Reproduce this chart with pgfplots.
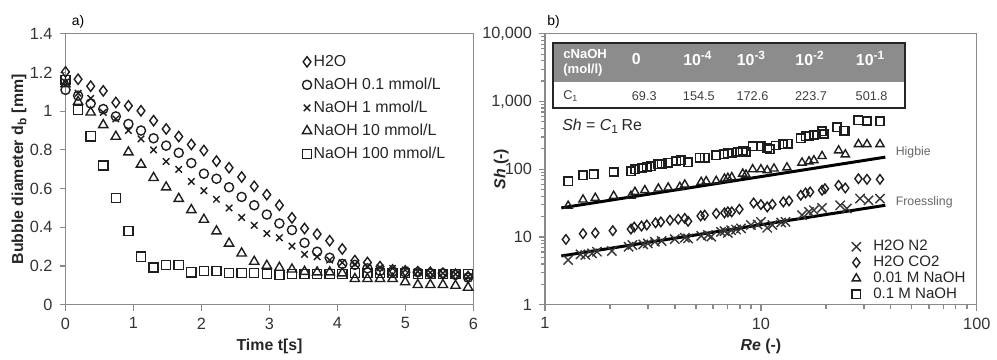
\documentclass[border=0pt]{standalone}
\usepackage{pgfplots}
\pgfplotsset{compat=1.18}
\usepackage{pgfplotstable}
\usepackage{fontspec}
\setmainfont{Liberation Sans}
\definecolor{axgray}{HTML}{8A8A8A}
\definecolor{mk}{HTML}{1E1E1E}
\definecolor{hdr}{HTML}{8C8C8C}

\pgfplotstableread{
t h2o n01 n1 n10 n100
0 1.203 1.11 1.15 1.14 1.16
0.185 1.165 1.08 1.093 1.049 1.006
0.37 1.129 1.04 1.066 0.994 0.870
0.555 1.105 1.011 0.994 0.929 0.72
0.74 1.045 0.973 0.96 0.869 0.552
0.925 1.028 0.934 0.90 0.788 0.382
1.11 1.002 0.90 0.857 0.725 0.248
1.295 0.951 0.86 0.80 0.656 0.192
1.48 0.908 0.822 0.74 0.607 0.206
1.665 0.869 0.785 0.699 0.548 0.206
1.85 0.828 0.732 0.637 0.49 0.168
2.035 0.797 0.677 0.589 0.44 0.175
2.22 0.742 0.651 0.545 0.38 0.175
2.405 0.708 0.607 0.50 0.317 0.163
2.59 0.660 0.557 0.451 0.266 0.163
2.775 0.612 0.514 0.41 0.223 0.163
2.96 0.569 0.466 0.368 0.202 0.158
3.145 0.514 0.420 0.346 0.192 0.154
3.33 0.449 0.386 0.303 0.183 0.158
3.515 0.394 0.320 0.26 0.171 0.158
3.70 0.365 0.274 0.248 0.168 0.158
3.885 0.331 0.243 0.231 0.168 0.158
4.07 0.288 0.211 0.218 0.163 0.158
4.255 0.228 0.206 0.209 0.134 0.163
4.44 0.218 0.188 0.197 0.134 0.163
4.625 0.197 0.175 0.192 0.134 0.163
4.81 0.180 0.171 0.188 0.134 0.163
4.995 0.175 0.168 0.18 0.117 0.163
5.18 0.171 0.168 0.171 0.103 0.16
5.365 0.168 0.163 0.166 0.103 0.16
5.55 0.163 0.163 0.163 0.103 0.16
5.735 0.158 0.154 0.158 0.099 0.158
5.92 0.146 0.14 0.146 0.089 0.158
}\lefttab

\pgfplotstableread{
re sh
1.28 4.58
1.46 5.55
1.54 5.43
1.65 5.74
1.74 6.07
2.04 6.21
2.44 7.19
2.54 7.61
2.85 7.78
2.99 8.05
3.23 8.51
3.47 8.71
3.99 9.32
4.44 9.75
4.60 9.53
5.29 10.4
5.68 10.7
5.89 10.1
6.54 11.9
6.78 12.2
7.03 11.5
7.28 12.6
7.67 12.9
8.09 13.4
8.99 15.0
9.66 15.3
10.0 16.7
10.7 13.7
11.3 15.0
12.4 16.4
13.0 16.7
15.5 21.0
16.7 23.5
17.6 24.9
19.2 26.9
23.3 29.4
25.0 26.3
28.8 36.9
31.5 34.8
35.6 36.9
}\tabNtwo

\pgfplotstableread{
re sh
1.25 9.21
1.50 11.2
1.71 11.5
2.06 12.4
2.50 13.1
2.59 14.0
2.80 14.5
2.96 15.0
3.25 16.2
3.44 16.7
3.79 17.7
4.14 18.3
4.44 18.8
4.60 17.1
5.26 20.5
5.49 21.0
6.21 22.2
6.78 22.7
7.03 23.5
7.33 23.5
7.95 25.7
9.25 31.8
10.0 30.1
10.7 27.8
11.3 30.4
12.7 32.9
13.5 34.1
15.3 41.3
16.1 44.7
16.9 46.2
19.2 48.9
19.8 51.7
22.9 57.9
24.6 52.9
28.3 72.5
31.0 71
35.6 71
}\tabCOtwo

\pgfplotstableread{
re sh
1.28 28.8
1.50 35.6
1.71 37.7
2.08 40.4
2.50 40.4
2.61 46.2
2.90 48.9
3.35 51.7
3.72 53.5
4.21 54.7
4.44 59.2
5.29 64.8
5.58 66.3
6.21 67.0
6.78 72.5
7.03 74.2
7.33 75.9
8.24 85.9
8.53 83
9.16 99.5
10.0 99.5
10.7 96.1
11.5 102
13.2 106
15.5 125
16.7 130
17.6 135
19.2 156
22.9 189
24.6 165
28.3 234
31.0 234
35.6 234
}\tabNaOHa

\pgfplotstableread{
re sh
1.28 66.3
1.50 81.2
1.68 84
2.08 90.9
2.50 93
2.61 99.5
2.80 104
2.96 108
3.10 110
3.32 118
3.47 120
3.72 125
4.06 132
4.28 136
4.60 127
5.20 148
5.49 148
6.21 160
6.73 167
7.03 171
7.33 175
7.81 179
8.24 187
8.53 179
9.16 219
10.0 219
10.7 205
11.0 196
11.7 224
12.6 234
13.3 237
15.3 287
16.1 307
16.7 314
17.6 321
19.2 364
19.6 332
22.5 416
24.2 372
24.6 372
28.3 527
31.0 516
35.6 510
}\tabNaOHb

\pgfplotsset{
  common/.style={
    scale only axis,
    axis line style={axgray, line width=0.6pt},
    tick style={axgray, line width=0.6pt},
    tick align=outside,
    major tick length=3pt,
    minor tick length=2pt,
    xtick pos=bottom, ytick pos=left,
    /pgf/number format/assume math mode=true,
    tick label style={font=\fontsize{8.2}{9}\selectfont, text=black!80},
    label style={font=\bfseries\fontsize{8}{9}\selectfont, text=black!85},
    clip=false,
  }
}

\begin{document}
\begin{tikzpicture}
\begin{scope}[x=0.5pt,y=-0.5pt]
\useasboundingbox (0,0) rectangle (997,356);
\end{scope}

% ---------------- panel a ----------------
\begin{axis}[common,
  at={(33pt,-153.5pt)}, anchor=south west,
  width=205.5pt, height=136.5pt,
  xmin=0, xmax=6, ymin=0, ymax=1.4,
  xtick={0,1,2,3,4,5,6},
  ytick={0,0.2,0.4,0.6,0.8,1,1.2,1.4},
  yticklabel style={/pgf/number format/fixed, /pgf/number format/precision=1},
  xlabel={Time t[s]},
  ylabel={Bubble diameter d\textsubscript{b} [mm]},
  xlabel style={at={(axis description cs:0.5,-0.152)}, anchor=center},
  ylabel style={at={(axis description cs:-0.114,0.5)}, anchor=center},
  legend style={at={(0.565,0.94)}, anchor=north west, draw=none, fill=none,
    font=\fontsize{8}{9}\selectfont, text=black!85,
    nodes={inner xsep=1pt, inner ysep=0pt, text height=6pt, text depth=1.5pt},
    row sep=4.1pt},
  legend cell align=left,
]
\addplot[only marks, mark=diamond, mark size=2.6pt, mark options={draw=mk, line width=0.7pt, fill=none}] table[x=t,y=h2o] {\lefttab};
\addlegendentry{H2O}
\addplot[only marks, mark=o, mark size=2.3pt, mark options={draw=mk, line width=0.7pt}] table[x=t,y=n01] {\lefttab};
\addlegendentry{NaOH 0.1 mmol/L}
\addplot[only marks, mark=x, mark size=2.3pt, mark options={draw=mk, line width=0.7pt}] table[x=t,y=n1] {\lefttab};
\addlegendentry{NaOH 1 mmol/L}
\addplot[only marks, mark=triangle, mark size=2.7pt, mark options={draw=mk, line width=0.7pt}] table[x=t,y=n10] {\lefttab};
\addlegendentry{NaOH 10 mmol/L}
\addplot[only marks, mark=square, mark size=2.3pt, mark options={draw=mk, line width=0.7pt}] table[x=t,y=n100] {\lefttab};
\addlegendentry{NaOH 100 mmol/L}
\end{axis}

% ---------------- panel b ----------------
\begin{axis}[common,
  at={(274.5pt,-153.5pt)}, anchor=south west,
  width=217.5pt, height=136.5pt,
  xmode=log, ymode=log,
  xmin=1, xmax=100, ymin=1, ymax=10000,
  xtick={1,10,100}, xticklabels={1,10,100},
  ytick={1,10,100,1000,10000}, yticklabels={1,10,100,{1,000},{10,000}},
  xlabel={\textit{Re} (-)},
  ylabel={\textit{Sh} (-)},
  xlabel style={at={(axis description cs:0.5,-0.152)}, anchor=center},
  ylabel style={at={(axis description cs:-0.101,0.5)}, anchor=center},
  every axis plot post/.append style={
    legend image code/.code={\path[draw=none,fill=none] (0cm,0cm) (0.6cm,0cm);\draw[mark repeat=2,mark phase=2,##1] plot coordinates {(0cm,0cm)(0.3cm,0cm)(0.6cm,0cm)};}},
  legend style={at={(0.667,0.256)}, anchor=north west, draw=none, fill=none,
    font=\fontsize{7.6}{9}\selectfont, text=black!85,
    nodes={inner xsep=0pt, inner ysep=0pt, text height=5.6pt, text depth=1.4pt},
    row sep=1.0pt},
  legend cell align=left,
]
\addplot[only marks, mark=x, mark size=3.3pt, mark options={draw=mk!90, line width=0.7pt}] table[x=re,y=sh] {\tabNtwo};
\addlegendentry{H2O N2}
\addplot[only marks, mark=diamond, mark size=2.4pt, mark options={draw=mk, line width=0.7pt}] table[x=re,y=sh] {\tabCOtwo};
\addlegendentry{H2O CO2}
\addplot[only marks, mark=triangle, mark size=2.4pt, mark options={draw=mk, line width=0.7pt}] table[x=re,y=sh] {\tabNaOHa};
\addlegendentry{0.01 M NaOH}
\addplot[only marks, mark=square, mark size=2.1pt, mark options={draw=mk, line width=0.8pt}] table[x=re,y=sh] {\tabNaOHb};
\addlegendentry{0.1 M NaOH}
\addplot[forget plot, black, line width=1.5pt] coordinates {(1.19,26.9) (37.7,151)};
\addplot[forget plot, black, line width=1.5pt] coordinates {(1.19,5.25) (37.7,29.4)};
\end{axis}

% ---------------- annotations ----------------
\begin{scope}[x=0.5pt,y=-0.5pt]
\node[anchor=west, inner sep=0pt, font=\fontsize{7}{8}\selectfont] at (72,22) {a)};
\node[anchor=west, inner sep=0pt, font=\fontsize{7}{8}\selectfont] at (551,22) {b)};
% table
\fill[hdr] (557,43) rectangle (912,83);
\fill[white] (557,83) rectangle (912,109);
\draw[line width=0.9pt, black!85] (557,43) rectangle (912,109);
\node[anchor=west, inner sep=0pt, align=left, text=white, font=\bfseries\fontsize{6.6}{7.4}\selectfont] at (567,63) {cNaOH\\(mol/l)};
\begin{scope}[every node/.style={inner sep=0pt, text=white, font=\bfseries\fontsize{8}{9}\selectfont}]
\node at (641,59) {0};
\node at (703,59) {10\textsuperscript{-4}};
\node at (757,59) {10\textsuperscript{-3}};
\node at (816,59) {10\textsuperscript{-2}};
\node at (877,59) {10\textsuperscript{-1}};
\end{scope}
\begin{scope}[every node/.style={inner sep=0pt, text=black!75, font=\fontsize{6.4}{7}\selectfont}]
\node[anchor=west] at (567,97) {C\textsubscript{1}};
\node at (649,97) {69.3};
\node at (704,97) {154.5};
\node at (758,97) {172.6};
\node at (817,97) {223.7};
\node at (878,97) {501.8};
\end{scope}
\node[anchor=west, inner sep=0pt, text=black!85, font=\fontsize{8}{9}\selectfont] at (566,127) {\textit{Sh} = \textit{C}\textsubscript{1}\,Re};
\node[anchor=west, inner sep=0pt, text=black!60, font=\fontsize{6.2}{7}\selectfont] at (902,153) {Higbie};
\node[anchor=west, inner sep=0pt, text=black!60, font=\fontsize{6.2}{7}\selectfont] at (902,204) {Froessling};
\end{scope}
\end{tikzpicture}
\end{document}
